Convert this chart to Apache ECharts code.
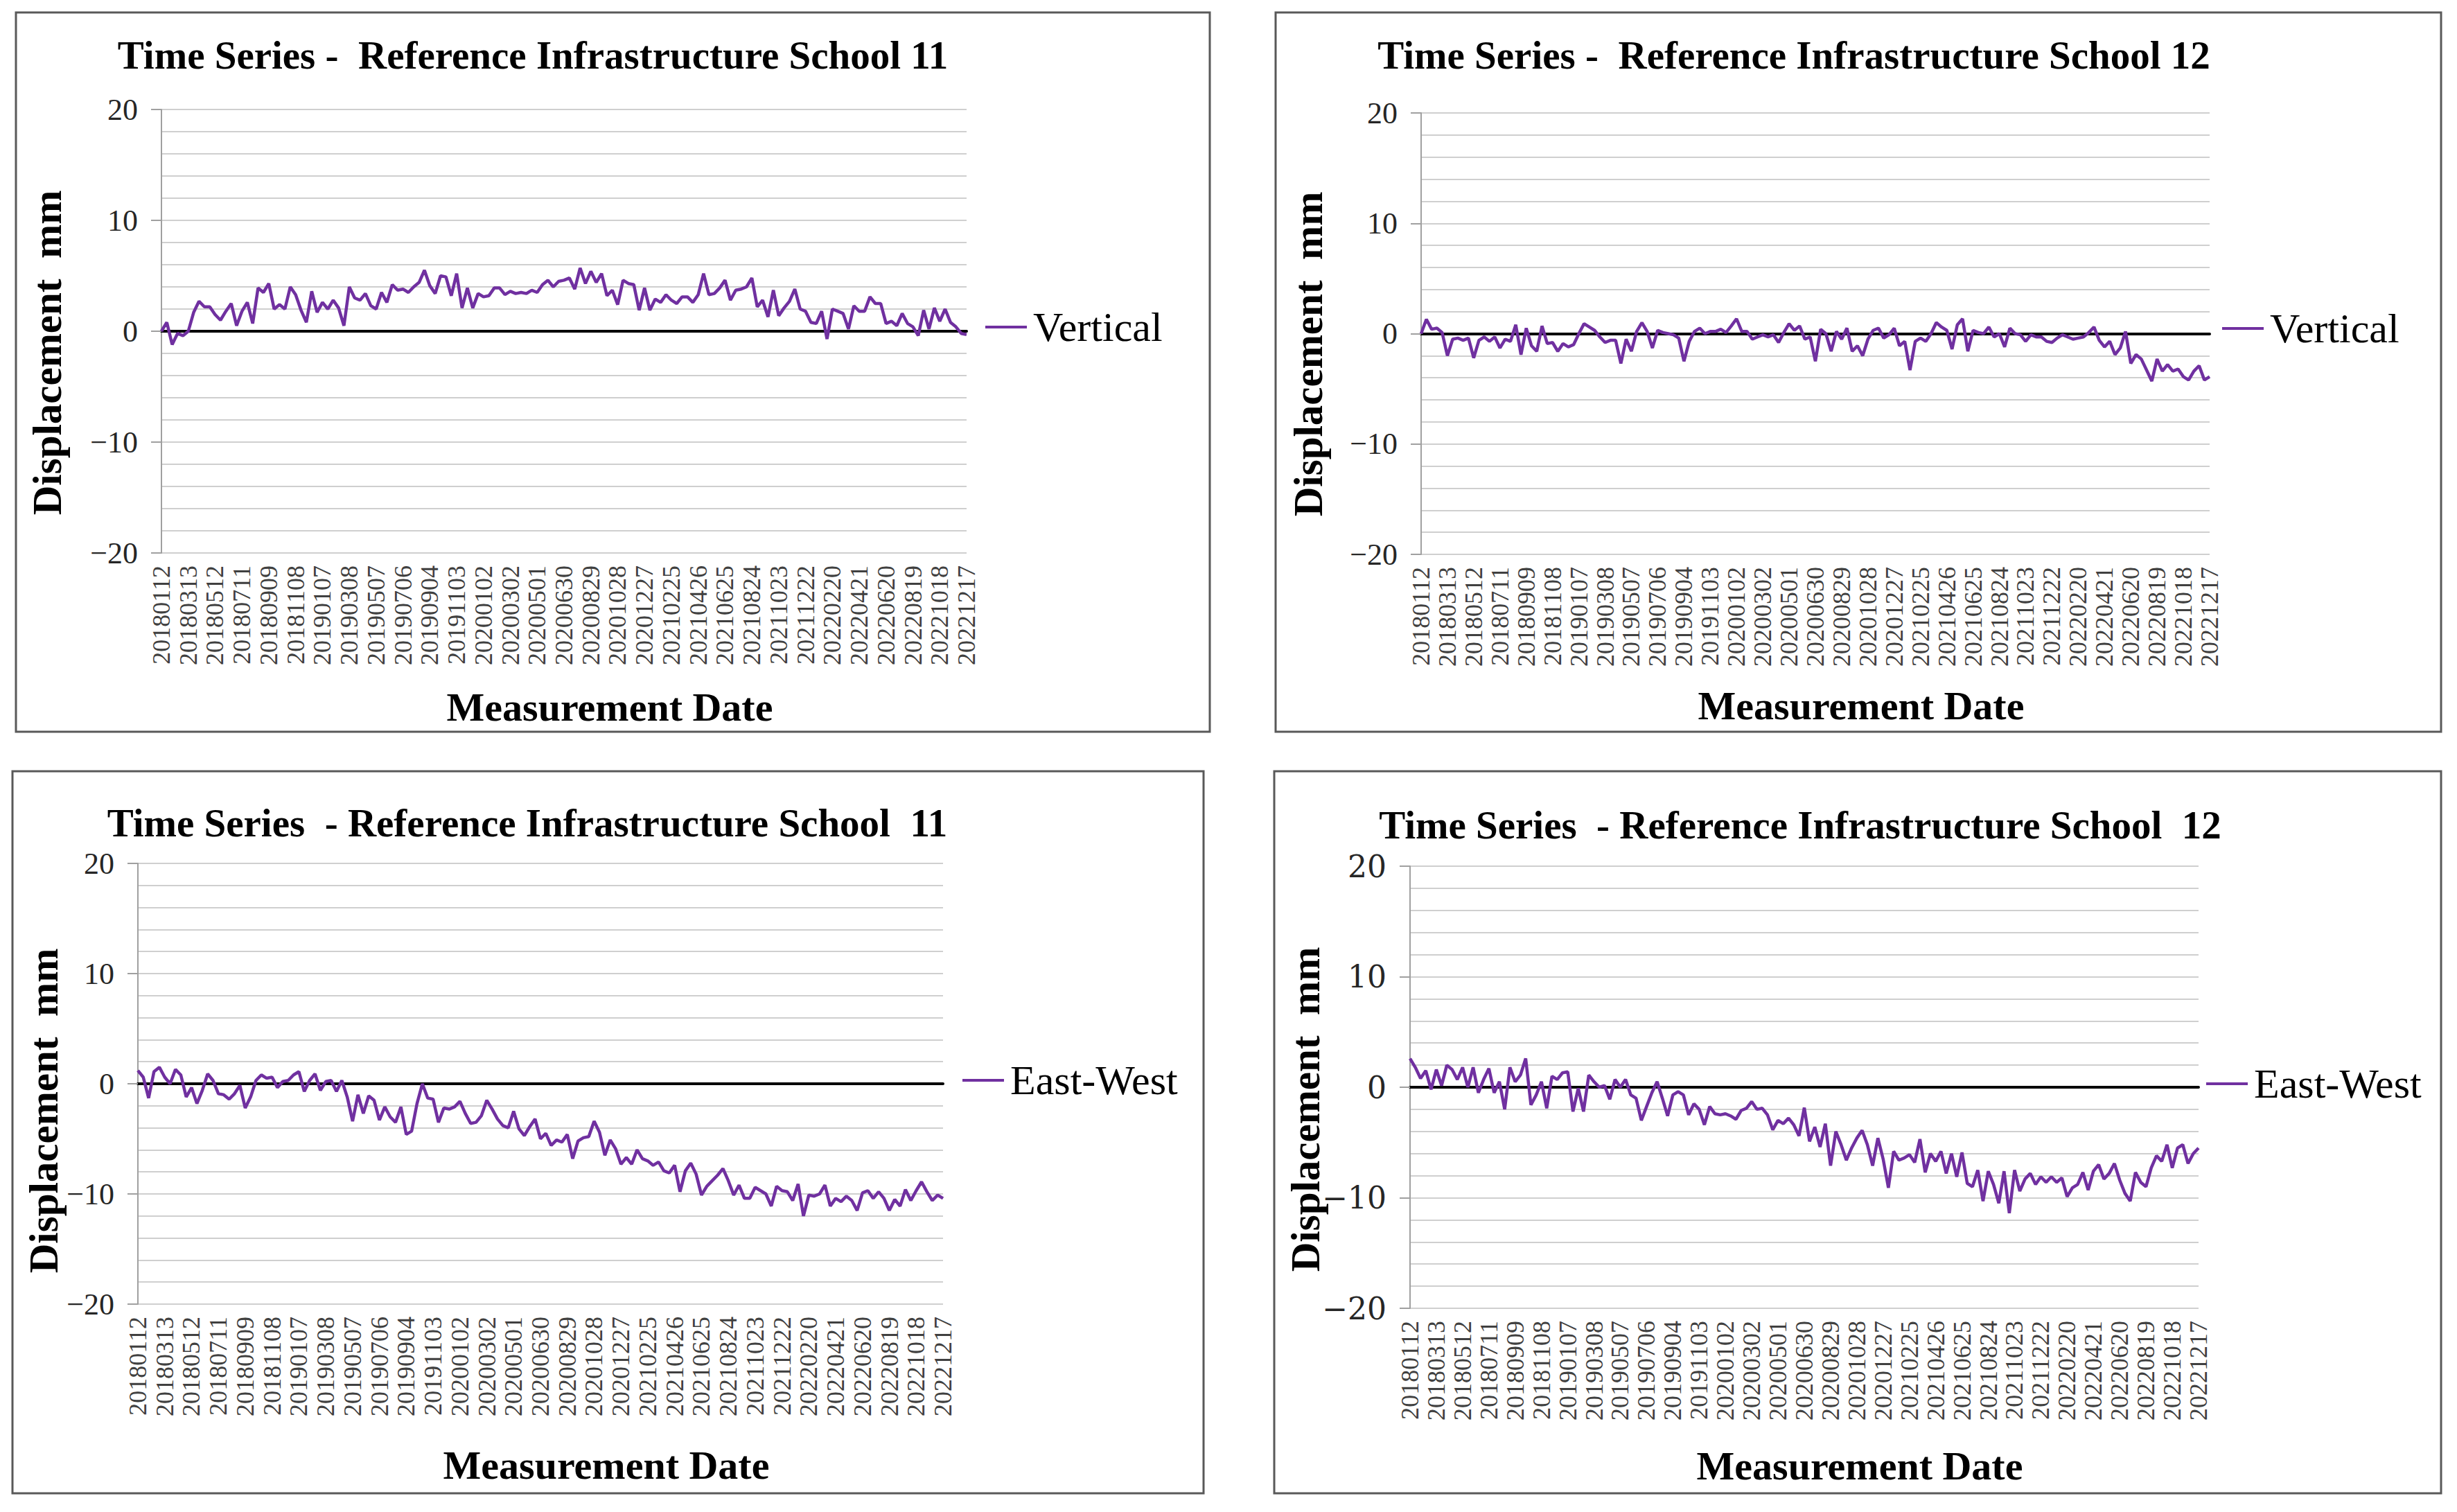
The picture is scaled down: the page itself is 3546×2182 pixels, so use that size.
<!DOCTYPE html>
<html>
<head>
<meta charset="utf-8">
<script src="https://cdn.jsdelivr.net/npm/echarts@6/dist/echarts.min.js"></script>
<style>
html, body { margin: 0; padding: 0; background: #fff; }
#chart { width: 3546px; height: 2182px; }
</style>
</head>
<body>
<div id="chart"></div>
<script>
'use strict';

// dates: one point every 12 days from 2018-01-12 to 2022-12-17
var startDate = '2018-01-12';
var stepDays = 12;
var pointCount = 151;
var yTickValues = [-20, -10, 0, 10, 20];

// displacement in mm
var vertical11 = [
  0.0, 0.8, -1.2, -0.2, -0.4, 0.0, 1.7, 2.7, 2.2, 2.2,
  1.5, 1.0, 1.8, 2.5, 0.5, 1.8, 2.6, 0.7, 3.9, 3.5,
  4.3, 2.0, 2.4, 2.0, 4.0, 3.3, 1.9, 0.8, 3.6, 1.7,
  2.6, 2.0, 2.8, 2.1, 0.5, 4.0, 3.0, 2.8, 3.4, 2.3,
  2.0, 3.5, 2.6, 4.2, 3.7, 3.8, 3.5, 4.0, 4.4, 5.5,
  4.1, 3.4, 5.0, 4.9, 3.2, 5.2, 2.1, 3.9, 2.1, 3.4,
  3.1, 3.2, 3.9, 3.9, 3.3, 3.6, 3.4, 3.5, 3.4, 3.7,
  3.5, 4.2, 4.6, 4.0, 4.5, 4.6, 4.8, 3.8, 5.7, 4.3,
  5.4, 4.4, 5.2, 3.2, 3.7, 2.4, 4.6, 4.3, 4.2, 1.9,
  3.9, 1.9, 2.9, 2.6, 3.3, 2.8, 2.5, 3.1, 3.1, 2.6,
  3.3, 5.2, 3.3, 3.4, 3.9, 4.6, 2.8, 3.7, 3.8, 4.0,
  4.8, 2.2, 2.8, 1.3, 3.7, 1.4, 2.1, 2.7, 3.8, 2.0,
  1.8, 0.8, 0.7, 1.8, -0.7, 2.0, 1.8, 1.6, 0.2, 2.3,
  1.8, 1.8, 3.1, 2.5, 2.5, 0.7, 0.9, 0.5, 1.6, 0.7,
  0.4, -0.4, 1.9, 0.2, 2.1, 0.9, 2.0, 0.8, 0.4, -0.2,
  -0.3
];

var vertical12 = [
  0.0, 1.3, 0.4, 0.5, 0.1, -2.0, -0.5, -0.4, -0.6, -0.4,
  -2.2, -0.6, -0.3, -0.7, -0.3, -1.3, -0.5, -0.7, 0.8, -1.9,
  0.5, -1.1, -1.6, 0.7, -0.9, -0.8, -1.6, -0.9, -1.2, -1.0,
  0.0, 0.9, 0.6, 0.3, -0.3, -0.8, -0.6, -0.6, -2.7, -0.5,
  -1.6, 0.2, 1.0, 0.2, -1.3, 0.3, 0.1, 0.0, -0.1, -0.4,
  -2.5, -0.7, 0.2, 0.5, 0.0, 0.2, 0.2, 0.4, 0.1, 0.7,
  1.35, 0.2, 0.2, -0.5, -0.3, -0.1, -0.3, -0.1, -0.8, 0.1,
  0.9, 0.3, 0.7, -0.5, -0.3, -2.5, 0.4, 0.0, -1.6, 0.2,
  -0.5, 0.5, -1.6, -1.1, -2.0, -0.5, 0.3, 0.5, -0.4, -0.1,
  0.5, -1.1, -0.7, -3.3, -0.7, -0.4, -0.7, 0.0, 1.0, 0.6,
  0.3, -1.4, 0.8, 1.35, -1.6, 0.3, 0.1, 0.0, 0.6, -0.3,
  0.0, -1.2, 0.5, 0.0, -0.1, -0.7, -0.1, -0.3, -0.3, -0.7,
  -0.8, -0.4, -0.1, -0.3, -0.5, -0.4, -0.3, 0.1, 0.6, -0.6,
  -1.2, -0.7, -1.9, -1.3, 0.2, -2.7, -1.9, -2.3, -3.3, -4.3,
  -2.3, -3.4, -2.8, -3.4, -3.2, -3.9, -4.2, -3.4, -2.9, -4.2,
  -3.9
];

var eastWest11 = [
  1.2, 0.6, -1.3, 1.1, 1.5, 0.6, 0.0, 1.3, 0.8, -1.2,
  -0.35, -1.8, -0.6, 0.9, 0.3, -0.9, -1.0, -1.4, -0.9, -0.15,
  -2.2, -1.2, 0.3, 0.8, 0.5, 0.6, -0.35, 0.2, 0.3, 0.8,
  1.1, -0.7, 0.3, 0.9, -0.6, 0.2, 0.3, -0.7, 0.3, -1.2,
  -3.4, -1.0, -2.7, -1.1, -1.5, -3.3, -2.1, -3.0, -3.5, -2.1,
  -4.6, -4.3, -1.8, 0.0, -1.3, -1.4, -3.5, -2.2, -2.3, -2.1,
  -1.6, -2.7, -3.6, -3.5, -2.9, -1.5, -2.3, -3.2, -3.8, -4.0,
  -2.5, -4.1, -4.7, -3.9, -3.2, -5.0, -4.5, -5.6, -5.1, -5.3,
  -4.6, -6.8, -5.2, -4.9, -4.8, -3.4, -4.4, -6.5, -5.1, -5.9,
  -7.3, -6.7, -7.3, -6.0, -6.8, -7.0, -7.4, -7.1, -7.9, -8.1,
  -7.4, -9.8, -7.9, -7.2, -8.2, -10.1, -9.3, -8.8, -8.3, -7.7,
  -8.8, -10.1, -9.2, -10.4, -10.4, -9.4, -9.7, -10.0, -11.1, -9.3,
  -9.7, -9.8, -10.6, -9.1, -12.0, -10.1, -10.2, -10.0, -9.2, -11.1,
  -10.4, -10.7, -10.2, -10.6, -11.5, -9.9, -9.7, -10.4, -9.8, -10.4,
  -11.5, -10.5, -11.1, -9.6, -10.6, -9.7, -8.9, -9.8, -10.6, -10.1,
  -10.4
];

var eastWest12 = [
  2.6, 1.8, 0.8, 1.5, -0.2, 1.6, 0.15, 2.0, 1.6, 0.7,
  1.8, 0.0, 1.8, -0.5, 0.7, 1.7, -0.5, 0.5, -2.0, 1.8,
  0.5, 1.1, 2.6, -1.6, -0.7, 0.5, -1.9, 1.0, 0.7, 1.3,
  1.4, -2.2, -0.1, -2.2, 1.1, 0.5, 0.0, 0.15, -1.1, 0.7,
  0.0, 0.7, -0.7, -1.0, -3.0, -1.75, -0.5, 0.5, -1.0, -2.6,
  -0.7, -0.4, -0.7, -2.5, -1.5, -2.0, -3.4, -1.75, -2.4, -2.5,
  -2.4, -2.6, -2.9, -2.1, -1.9, -1.3, -2.0, -1.9, -2.5, -3.85,
  -3.0, -3.3, -2.8, -3.4, -4.4, -1.85, -4.9, -3.6, -5.4, -3.3,
  -7.1, -4.0, -5.2, -6.6, -5.5, -4.6, -3.9, -5.2, -7.1, -4.6,
  -6.5, -9.1, -5.8, -6.6, -6.4, -6.1, -6.8, -4.7, -7.7, -6.0,
  -6.7, -5.8, -7.8, -6.0, -8.1, -5.9, -8.7, -9.0, -7.5, -10.3,
  -7.6, -8.8, -10.5, -7.6, -11.4, -7.5, -9.4, -8.3, -7.8, -8.8,
  -8.1, -8.6, -8.1, -8.6, -8.2, -9.9, -9.1, -8.8, -7.7, -9.3,
  -7.6, -7.0, -8.3, -7.8, -6.9, -8.4, -9.6, -10.3, -7.7, -8.6,
  -9.0, -7.3, -6.2, -6.7, -5.2, -7.3, -5.5, -5.2, -6.9, -6.0,
  -5.5
];

function buildDates() {
  var out = [];
  var t0 = Date.parse(startDate + 'T00:00:00Z');
  for (var i = 0; i < pointCount; i++) {
    var d = new Date(t0 + i * stepDays * 86400000);
    var m = d.getUTCMonth() + 1, day = d.getUTCDate();
    out.push('' + d.getUTCFullYear() + (m < 10 ? '0' : '') + m + (day < 10 ? '0' : '') + day);
  }
  return out;
}
var dates = buildDates();

// page layout of the four boxes (pixels)
var panels = [
  { title: 'Time Series -  Reference Infrastructure School 11', name: 'Vertical', data: vertical11,
    box: [23, 18, 1746, 1056], grid: [233, 158, 1395, 798], titleAt: [769, 79],
    yNameAt: [68, 509], xNameAt: [880, 1020], legendAt: [1422, 478], tickFont: 'Liberation Serif' },
  { title: 'Time Series -  Reference Infrastructure School 12', name: 'Vertical', data: vertical12,
    box: [1841, 18, 3523, 1056], grid: [2051, 163, 3189, 800], titleAt: [2589, 79],
    yNameAt: [1888, 511], xNameAt: [2686, 1018], legendAt: [3207, 480], tickFont: 'Liberation Serif' },
  { title: 'Time Series  - Reference Infrastructure School  11', name: 'East-West', data: eastWest11,
    box: [18, 1113, 1737, 2155], grid: [199, 1246, 1361, 1882], titleAt: [761, 1187],
    yNameAt: [63, 1603], xNameAt: [875, 2114], legendAt: [1389, 1565], tickFont: 'Liberation Serif' },
  { title: 'Time Series  - Reference Infrastructure School  12', name: 'East-West', data: eastWest12,
    box: [1839, 1113, 3523, 2155], grid: [2035, 1250, 3173, 1888], titleAt: [2598, 1190],
    yNameAt: [1884, 1601], xNameAt: [2684, 2115], legendAt: [3184, 1570], tickFont: 'DejaVu Serif' }
];

var W = 3546, H = 2182;
var purple = '#7030A0';
var serif = 'Liberation Serif';
var gridGray = '#cfcfcf';

var option = {
  animation: false,
  backgroundColor: '#fff',
  grid: [], xAxis: [], yAxis: [], series: [], legend: [], graphic: []
};

panels.forEach(function (p, k) {
  option.grid.push({
    left: p.grid[0], top: p.grid[1],
    right: W - p.grid[2], bottom: H - p.grid[3]
  });
  // black horizontal axis line at 0
  option.xAxis.push({
    type: 'category', gridIndex: k, data: dates, boundaryGap: false,
    axisLine: { onZero: true, lineStyle: { color: '#000', width: 4 } },
    axisTick: { show: false }, axisLabel: { show: false }, splitLine: { show: false }
  });
  // date labels along the bottom
  option.xAxis.push({
    type: 'category', gridIndex: k, data: dates, boundaryGap: false, position: 'bottom',
    axisLine: { show: false, onZero: false }, axisTick: { show: false },
    axisLabel: { interval: 4, rotate: 90, margin: 18, fontFamily: serif, fontSize: 36, color: '#404040' },
    splitLine: { show: false }
  });
  option.yAxis.push({
    type: 'value', gridIndex: k, min: -20, max: 20, interval: 10,
    axisLine: { show: true, lineStyle: { color: '#a0a0a0', width: 2 } },
    axisTick: { show: true, length: 15, lineStyle: { color: '#a0a0a0', width: 2 } },
    axisLabel: {
      margin: 34, fontFamily: p.tickFont, fontSize: 44, color: '#262626',
      formatter: function (v) { return v < 0 ? '\u2212' + (-v) : '' + v; }
    },
    splitLine: { show: true, lineStyle: { color: gridGray, width: 2 } },
    minorTick: { show: false, splitNumber: 5 },
    minorSplitLine: { show: true, lineStyle: { color: gridGray, width: 2 } }
  });
  option.series.push({
    name: p.name, type: 'line', xAxisIndex: 2 * k, yAxisIndex: k,
    data: p.data, showSymbol: false, symbol: 'none',
    lineStyle: { color: purple, width: 4.5 }, itemStyle: { color: purple }
  });
  option.legend.push({
    data: [p.name], left: p.legendAt[0], top: p.legendAt[1] - 36, padding: 0,
    icon: 'rect', itemWidth: 60, itemHeight: 4, selectedMode: false,
    textStyle: { fontFamily: serif, fontSize: 60, color: '#000', padding: [0, 0, 0, 4] }
  });
  option.graphic.push({
    type: 'rect', silent: true,
    shape: { x: p.box[0], y: p.box[1], width: p.box[2] - p.box[0], height: p.box[3] - p.box[1] },
    style: { fill: 'none', stroke: '#595959', lineWidth: 3 }
  });
  option.graphic.push({
    type: 'text', x: p.titleAt[0], y: p.titleAt[1],
    style: { text: p.title, font: 'bold 57px "Liberation Serif"', fill: '#000',
      textAlign: 'center', textVerticalAlign: 'middle' }
  });
  option.graphic.push({
    type: 'text', x: p.yNameAt[0], y: p.yNameAt[1], rotation: Math.PI / 2,
    style: { text: 'Displacement  mm', font: 'bold 59px "Liberation Serif"', fill: '#000',
      textAlign: 'center', textVerticalAlign: 'middle' }
  });
  option.graphic.push({
    type: 'text', x: p.xNameAt[0], y: p.xNameAt[1],
    style: { text: 'Measurement Date', font: 'bold 58px "Liberation Serif"', fill: '#000',
      textAlign: 'center', textVerticalAlign: 'middle' }
  });
});

var myChart = echarts.init(document.getElementById('chart'), null, { renderer: 'svg' });
myChart.setOption(option);
</script>
</body>
</html>
